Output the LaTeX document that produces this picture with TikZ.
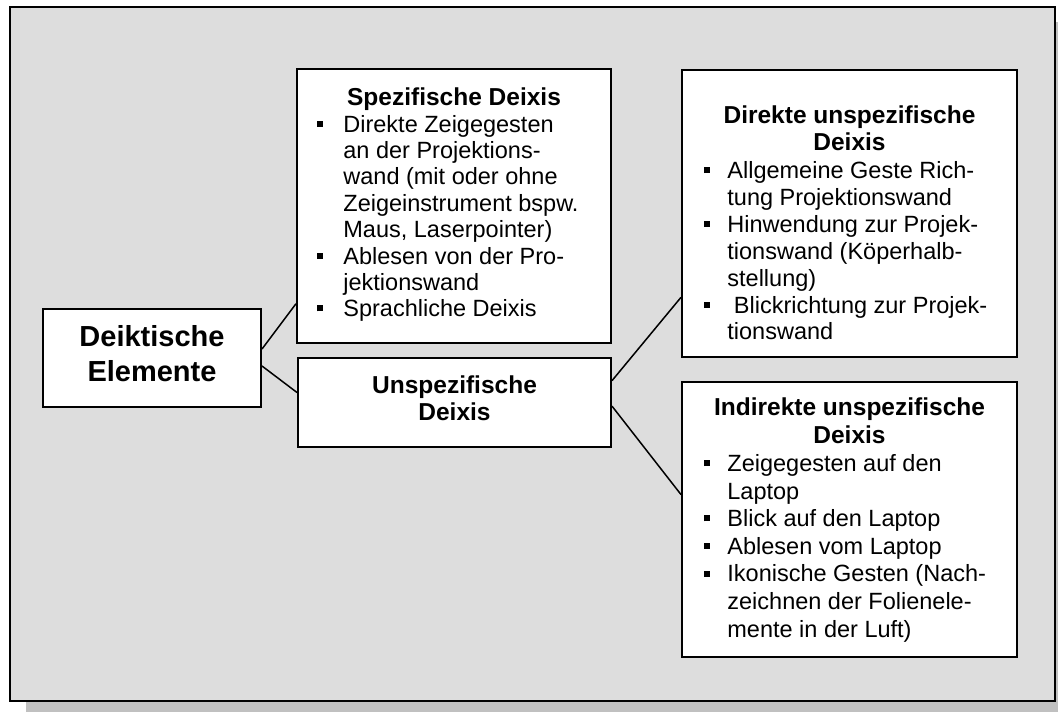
\documentclass[tikz,border=0pt]{standalone}
\usepackage{fontspec}
\setmainfont{Liberation Sans}
\usetikzlibrary{calc}
\definecolor{framegray}{HTML}{DDDDDD}
\definecolor{shadowgray}{HTML}{C0C0C0}
\newcommand\blt[1][10pt]{\llap{\rule[2.7pt]{3pt}{3pt}\hspace{#1}}}
\begin{document}
\begin{tikzpicture}[x=0.5pt,y=-0.5pt,
  box/.style={draw=black,line width=1pt,fill=white,inner sep=0pt},
  conn/.style={draw=black,line width=0.75pt},
  ttl/.style={font=\fontsize{12.25}{13.4}\selectfont\bfseries,align=center,inner sep=0pt,anchor=base},
  lst/.style={font=\fontsize{11.75}{13.2}\selectfont,align=left,inner sep=0pt,anchor=base west}]
\useasboundingbox (0,0) rectangle (1058,711);
\fill[shadowgray] (26,22) rectangle (1070,720);
\draw[line width=1.25pt,fill=framegray] (10,7) rectangle (1055,701);

% boxes
\node[box,minimum width=109pt,minimum height=49pt] (deik) at (152,358) {};
\node[box,minimum width=157pt,minimum height=137pt] (spez) at (454,206) {};
\node[box,minimum width=156.5pt,minimum height=44.5pt] (unsp) at (454.5,402.5) {};
\node[box,minimum width=167.5pt,minimum height=143.5pt] (dir) at (849.5,213.5) {};
\node[box,minimum width=167.5pt,minimum height=137.5pt] (ind) at (849.5,519.5) {};

% texts (base anchor = baseline of the last line)
\node[ttl,font=\fontsize{14.5}{17.5}\selectfont\bfseries] (deikt) at (152,381.5) {Deiktische\\Elemente};
\node[ttl] (spezt) at (454,105.5) {Spezifische Deixis};
\node[lst] (spezl) at (343,316.8) {\blt Direkte Zeigegesten\\
an der Projektions-\\
wand (mit oder ohne\\
Zeigeinstrument bspw.\\
Maus, Laserpointer)\\
\blt Ablesen von der Pro-\\
jektionswand\\
\blt Sprachliche Deixis};
\node[ttl,font=\fontsize{12.25}{13.5}\selectfont\bfseries] (unspt) at (454.5,420.5) {Unspezifische\\Deixis};
\node[ttl,font=\fontsize{12.25}{13.45}\selectfont\bfseries] (dirt) at (849.5,150.4) {Direkte unspezifische\\Deixis};
\node[lst,font=\fontsize{11.75}{13.45}\selectfont] (dirl) at (727,339.9) {\blt[8.5pt]Allgemeine Geste Rich-\\
tung Projektionswand\\
\blt[8.5pt]Hinwendung zur Projek-\\
tionswand (Köperhalb-\\
stellung)\\
\blt[8.5pt]\ Blickrichtung zur Projek-\\
tionswand};
\node[ttl,font=\fontsize{12.25}{13.8}\selectfont\bfseries] (indt) at (849.5,443.1) {Indirekte unspezifische\\Deixis};
\node[lst,font=\fontsize{11.75}{13.8}\selectfont] (indl) at (727,637.1) {\blt[8.5pt]Zeigegesten auf den\\
Laptop\\
\blt[8.5pt]Blick auf den Laptop\\
\blt[8.5pt]Ablesen vom Laptop\\
\blt[8.5pt]Ikonische Gesten (Nach-\\
zeichnen der Folienele-\\
mente in der Luft)};

% connector end points
\coordinate (d1) at ($(deik.north east)!0.41!(deik.south east)$);
\coordinate (d2) at ($(deik.north east)!0.58!(deik.south east)$);
\coordinate (s1) at ($(spez.north west)!0.854!(spez.south west)$);
\coordinate (u1) at ($(unsp.north west)!0.39!(unsp.south west)$);
\coordinate (u2) at ($(unsp.north east)!0.26!(unsp.south east)$);
\coordinate (u3) at ($(unsp.north east)!0.54!(unsp.south east)$);
\coordinate (r1) at ($(dir.north west)!0.79!(dir.south west)$);
\coordinate (r2) at ($(ind.north west)!0.41!(ind.south west)$);
\draw[conn] (d1) -- (s1);
\draw[conn] (d2) -- (u1);
\draw[conn] (u2) -- (r1);
\draw[conn] (u3) -- (r2);
\end{tikzpicture}
\end{document}
